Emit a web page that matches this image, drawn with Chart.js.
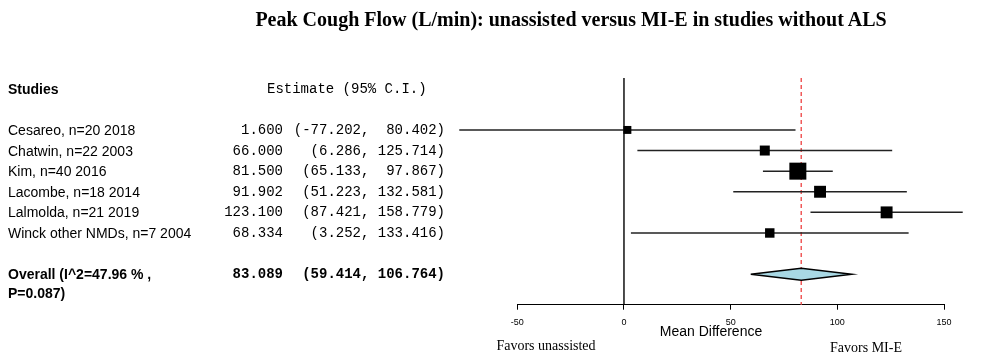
<!DOCTYPE html>
<html>
<head>
<meta charset="utf-8">
<script src="https://cdn.jsdelivr.net/npm/chart.js@4.4.1/dist/chart.umd.min.js"></script>
<style>
  body { margin: 0; background: #fff; }
  #wrap { position: relative; width: 983px; height: 356px; overflow: hidden; }
  #c { position: absolute; left: 0; top: 0; }
  .t { position: absolute; white-space: pre; line-height: 20px; height: 20px; color: #000; }
  .sans { font-family: "Liberation Sans", Arial, Helvetica, sans-serif; font-size: 14px; }
  .mono { font-family: "Liberation Mono", "Courier New", monospace; font-size: 14px; }
  .serif { font-family: "Liberation Serif", "Times New Roman", serif; font-size: 14px; }
  .b { font-weight: bold; }
</style>
</head>
<body>
<div id="wrap">
  <canvas id="c" width="983" height="356"></canvas>
  <div class="t serif b" style="left:0;width:1142px;text-align:center;top:9px;font-size:20px;">Peak Cough Flow (L/min): unassisted versus MI-E in studies without ALS</div>
  <div class="t sans" style="left:611px;width:200px;text-align:center;top:321px;">Mean Difference</div>
  <div class="t serif" style="left:446px;width:200px;text-align:center;top:336px;">Favors unassisted</div>
  <div class="t serif" style="left:766px;width:200px;text-align:center;top:338px;">Favors MI-E</div>
</div>
<script>
// study rows, top to bottom
const studies  = ['Cesareo, n=20 2018', 'Chatwin, n=22 2003', 'Kim, n=40 2016', 'Lacombe, n=18 2014', 'Lalmolda, n=21 2019', 'Winck other NMDs, n=7 2004'];
const estimate = [1.600, 66.000, 81.500, 91.902, 123.100, 68.334];
const ciLow    = [-77.202, 6.286, 65.133, 51.223, 87.421, 3.252];
const ciHigh   = [80.402, 125.714, 97.867, 132.581, 158.779, 133.416];
const weights  = [6.0, 9.5, 27.5, 13.5, 13.5, 8.5];   // relative study weights (box area)

const overallLabel = ['Overall (I^2=47.96 % ,', 'P=0.087)'];
const overall      = [83.089, 59.414, 106.764];          // estimate, low, high

const xTicks = [-50, 0, 50, 100, 150];

const OVERALL_ROW = studies.length + 1;
const Y_MIN = -2.52, Y_MAX = 8.48;
const DIAMOND_HALF = 0.29;
const MAX_BOX = 17;

const wMax = Math.max.apply(null, weights);
function boxRadius(w) { return MAX_BOX * Math.sqrt(w / wMax) / (2 * Math.SQRT1_2); }

const ciSets = studies.map(function (s, i) {
  return {
    type: 'line', order: 2, clip: false,
    data: [{ x: ciLow[i], y: i }, { x: ciHigh[i], y: i }],
    borderColor: '#222', borderWidth: 1.5, pointRadius: 0,
  };
});

const chart = new Chart(document.getElementById('c'), {
  type: 'scatter',
  data: {
    datasets: [
      {
        order: 0, clip: false,
        data: estimate.map(function (v, i) { return { x: v, y: i }; }),
        pointStyle: 'rect',
        pointRadius: weights.map(boxRadius),
        backgroundColor: '#000', borderColor: '#000', borderWidth: 0,
      },
      {
        type: 'line', order: 1, clip: false,
        data: [
          { x: overall[1], y: OVERALL_ROW },
          { x: overall[0], y: OVERALL_ROW - DIAMOND_HALF },
          { x: overall[2], y: OVERALL_ROW },
          { x: overall[0], y: OVERALL_ROW + DIAMOND_HALF },
          { x: overall[1], y: OVERALL_ROW },
        ],
        borderColor: '#000', borderWidth: 1.5, backgroundColor: '#a8d8e4',
        fill: 'shape', tension: 0, pointRadius: 0,
      },
      {
        type: 'line', order: 3, clip: false,
        data: [{ x: 0, y: Y_MIN }, { x: 0, y: Y_MAX }],
        borderColor: '#000', borderWidth: 1.4, pointRadius: 0,
      },
      {
        type: 'line', order: 3, clip: false,
        data: [{ x: overall[0], y: Y_MIN }, { x: overall[0], y: Y_MAX }],
        borderColor: '#f05a5a', borderWidth: 1.5, borderDash: [4, 3], pointRadius: 0,
      },
    ].concat(ciSets),
  },
  options: {
    responsive: false,
    animation: false,
    events: [],
    layout: { padding: { left: 517.3, right: 39, top: 78, bottom: 0 } },
    plugins: { legend: { display: false }, tooltip: { enabled: false } },
    scales: {
      x: {
        type: 'linear', min: -50, max: 150,
        afterBuildTicks: function (s) { s.ticks = xTicks.map(function (v) { return { value: v }; }); },
        afterFit: function (s) { s.height = 356 - 304.7; },
        grid: { drawOnChartArea: false, drawTicks: true, tickLength: 5, color: '#000', lineWidth: 1 },
        border: { display: true, color: '#000', width: 1 },
        ticks: { color: '#000', padding: 7, maxRotation: 0, font: { family: '"Liberation Sans", Arial, sans-serif', size: 9 } },
      },
      y: { type: 'linear', reverse: true, min: Y_MIN, max: Y_MAX, display: false },
    },
  },
});

// left-hand text columns, placed on the chart's own row positions
var wrap = document.getElementById('wrap');
function addText(txt, cls, left, width, align, yVal, dy) {
  var d = document.createElement('div');
  d.className = 't ' + cls;
  d.textContent = txt;
  d.style.left = left + 'px';
  d.style.width = width + 'px';
  d.style.textAlign = align;
  d.style.top = (chart.scales.y.getPixelForValue(yVal) - 10 + (dy || 0)) + 'px';
  wrap.appendChild(d);
}
function ciText(lo, hi) { return '(' + lo.toFixed(3) + ', ' + hi.toFixed(3).padStart(7) + ')'; }

addText('Studies', 'sans b', 8, 200, 'left', -2);
addText('Estimate (95% C.I.)', 'mono', 267, 220, 'left', -2);
studies.forEach(function (s, i) {
  addText(s, 'sans', 8, 220, 'left', i);
  addText(estimate[i].toFixed(3), 'mono', 183, 100, 'right', i);
  addText(ciText(ciLow[i], ciHigh[i]), 'mono', 285, 160, 'right', i);
});
addText(overallLabel[0], 'sans b', 8, 220, 'left', OVERALL_ROW);
addText(overallLabel[1], 'sans b', 8, 220, 'left', OVERALL_ROW, 19);
addText(overall[0].toFixed(3), 'mono b', 183, 100, 'right', OVERALL_ROW);
addText(ciText(overall[1], overall[2]), 'mono b', 285, 160, 'right', OVERALL_ROW);
</script>
</body>
</html>
